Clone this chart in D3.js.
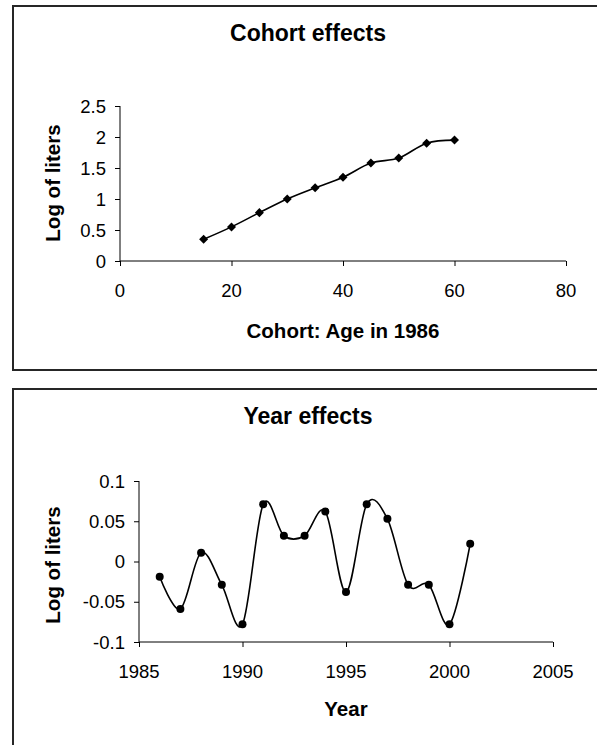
<!DOCTYPE html>
<html>
<head>
<meta charset="utf-8">
<script src="https://cdn.jsdelivr.net/npm/d3@7"></script>
<style>
    body { margin: 0; background: #ffffff; }
    text { font-family: Arial, "Liberation Sans", sans-serif; fill: #000000; }
    .chart-title { font-size: 23px; font-weight: bold; }
    .axis-title { font-size: 20.5px; font-weight: bold; }
    .tick-label { font-size: 18.5px; }
</style>
</head>
<body>
<div id="container"></div>
<script>

// cohort effects data
var cohortAges = [15, 20, 25, 30, 35, 40, 45, 50, 55, 60];
var cohortValues = [0.35, 0.55, 0.78, 1.0, 1.18, 1.35, 1.58, 1.66, 1.90, 1.95];
var cohortXTicks = [0, 20, 40, 60, 80];
var cohortYTicks = [0, 0.5, 1, 1.5, 2, 2.5];

// year effects data
var years = [1986, 1987, 1988, 1989, 1990, 1991, 1992, 1993, 1994, 1995, 1996, 1997, 1998, 1999, 2000, 2001];
var yearValues = [-0.019, -0.059, 0.011, -0.029, -0.078, 0.071, 0.032, 0.032, 0.062, -0.038, 0.071, 0.053, -0.029, -0.029, -0.078, 0.022];
var yearXTicks = [1985, 1990, 1995, 2000, 2005];
var yearYTicks = [-0.1, -0.05, 0, 0.05, 0.1];

var svg = d3.select("#container")
    .append("svg")
    .attr("width", 597)
    .attr("height", 745);

// draws one framed chart panel
function drawPanel(opts) {

    // frame around the chart
    svg.append("rect")
        .attr("x", 13)
        .attr("y", opts.frameTop)
        .attr("width", 620)
        .attr("height", opts.frameHeight)
        .attr("fill", "none")
        .attr("stroke", "#262626")
        .attr("stroke-width", 2);

    var x = d3.scaleLinear().domain(opts.xDomain).range(opts.xRange);
    var y = d3.scaleLinear().domain(opts.yDomain).range(opts.yRange);

    var g = svg.append("g");

    // title
    g.append("text")
        .attr("class", "chart-title")
        .attr("x", 308)
        .attr("y", opts.titleY)
        .attr("text-anchor", "middle")
        .text(opts.title);

    // x axis
    var xAxis = d3.axisBottom(x)
        .tickValues(opts.xTicks)
        .tickSize(5)
        .tickFormat("");
    g.append("g")
        .attr("transform", "translate(0," + opts.yRange[0] + ")")
        .call(xAxis)
        .call(function (a) {
            a.select(".domain").attr("stroke", "#000").attr("d", "M" + opts.xRange[0] + ",0H" + opts.xRange[1]);
            a.selectAll(".tick line").attr("stroke", "#000");
        });

    // y axis
    var yAxis = d3.axisLeft(y)
        .tickValues(opts.yTicks)
        .tickSize(5)
        .tickFormat("");
    g.append("g")
        .attr("transform", "translate(" + opts.xRange[0] + ",0)")
        .call(yAxis)
        .call(function (a) {
            a.select(".domain").attr("stroke", "#000").attr("d", "M0," + opts.yRange[0] + "V" + opts.yRange[1]);
            a.selectAll(".tick line").attr("stroke", "#000");
        });

    // tick labels
    g.selectAll(".xlab")
        .data(opts.xTicks)
        .enter()
        .append("text")
        .attr("class", "tick-label")
        .attr("x", function (d) { return x(d); })
        .attr("y", opts.yRange[0] + 35.5)
        .attr("text-anchor", "middle")
        .text(function (d) { return d; });

    g.selectAll(".ylab")
        .data(opts.yTicks)
        .enter()
        .append("text")
        .attr("class", "tick-label")
        .attr("x", opts.xRange[0] - 14)
        .attr("y", function (d) { return y(d) + 6.6; })
        .attr("text-anchor", "end")
        .text(function (d) { return d; });

    // axis titles
    g.append("text")
        .attr("class", "axis-title")
        .attr("x", (opts.xRange[0] + opts.xRange[1]) / 2)
        .attr("y", opts.xTitleY)
        .attr("text-anchor", "middle")
        .text(opts.xTitle);

    g.append("text")
        .attr("class", "axis-title")
        .attr("transform", "translate(59.5," + opts.yTitleY + ") rotate(-90)")
        .attr("text-anchor", "middle")
        .text(opts.yTitle);

    // smoothed line like excel
    var line = d3.line()
        .x(function (d, i) { return x(opts.xs[i]); })
        .y(function (d) { return y(d); })
        .curve(d3.curveCardinal.tension(0));

    g.append("path")
        .datum(opts.ys)
        .attr("d", line)
        .attr("fill", "none")
        .attr("stroke", "#000")
        .attr("stroke-width", 1.6);

    // markers
    if (opts.marker == "diamond") {
        g.selectAll(".marker")
            .data(opts.ys)
            .enter()
            .append("path")
            .attr("d", d3.symbol().type(d3.symbolDiamond2).size(52))
            .attr("transform", function (d, i) { return "translate(" + x(opts.xs[i]) + "," + y(d) + ")"; })
            .attr("fill", "#000");
    }
    else {
        g.selectAll(".marker")
            .data(opts.ys)
            .enter()
            .append("circle")
            .attr("cx", function (d, i) { return x(opts.xs[i]); })
            .attr("cy", function (d) { return y(d); })
            .attr("r", 4)
            .attr("fill", "#000");
    }
}

drawPanel({
    frameTop: 6, frameHeight: 364,
    title: "Cohort effects", titleY: 41,
    xDomain: [0, 80], xRange: [120, 566],
    yDomain: [0, 2.5], yRange: [261, 106],
    xTicks: cohortXTicks, yTicks: cohortYTicks,
    xTitle: "Cohort: Age in 1986", xTitleY: 337.5,
    yTitle: "Log of liters", yTitleY: 183,
    xs: cohortAges, ys: cohortValues, marker: "diamond"
});

drawPanel({
    frameTop: 389, frameHeight: 400,
    title: "Year effects", titleY: 424,
    xDomain: [1985, 2005], xRange: [139, 553],
    yDomain: [-0.1, 0.1], yRange: [642, 481],
    xTicks: yearXTicks, yTicks: yearYTicks,
    xTitle: "Year", xTitleY: 715.5,
    yTitle: "Log of liters", yTitleY: 565,
    xs: years, ys: yearValues, marker: "circle"
});

</script>
</body>
</html>
